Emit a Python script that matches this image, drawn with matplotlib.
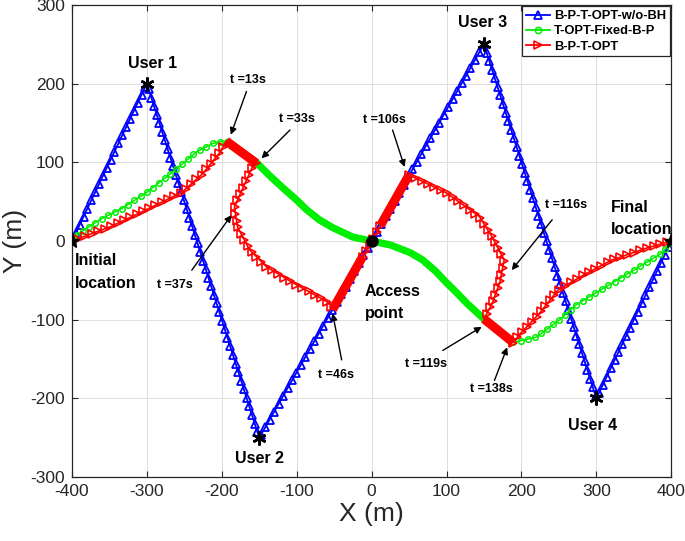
import numpy as np
import matplotlib
matplotlib.use("Agg")
import matplotlib.pyplot as plt
from matplotlib.lines import Line2D

plt.rcParams['font.family'] = ['Liberation Sans', 'DejaVu Sans']
plt.rcParams['axes.unicode_minus'] = False

# ---------------- data ----------------
users_x = [-300, -150, 150, 300]
users_y = [200, -250, 250, -200]
user_labels = ["User 1", "User 2", "User 3", "User 4"]
ends_x = [-400, 400]
ends_y = [0, 0]
ap_x, ap_y = [0], [0]

# B-P-T-OPT-w/o-BH (blue)
blue_x = [-400, -300, -150, 150, 300, 400]
blue_y = [0, 200, -250, 250, -200, 0]

# T-OPT-Fixed-B-P (green)
green_fly1_x = [-400, -393, -363, -332, -300, -265, -234, -212, -196]
green_fly1_y = [0, 8, 27, 42, 62, 88, 113, 124, 127]
green_slow_x = [-196, -153, -135, -119, -100, -87, -70, -52, -25, 0, 25, 52, 68, 85, 100, 115, 127, 150, 189]
green_slow_y = [127, 99, 82, 68, 52, 40, 27, 17, 5, 0, -5, -15, -24, -38, -53, -67, -79, -99, -128]
green_fly2_x = [189, 193, 220, 251, 273, 313, 355, 388, 400]
green_fly2_y = [-128, -128, -122, -100, -81, -58, -34, -15, 0]

# B-P-T-OPT (red)
red_fly1_x = [-400, -375, -349, -309, -283, -253, -225, -203, -194]
red_fly1_y = [0, 9, 18, 36, 48, 62, 86, 112, 127]
red_hover1_x = [-194, -154]
red_hover1_y = [127, 99]
red_loop1_x = [-154, -159, -173, -183, -179, -163, -140, -105, -56, -52]
red_loop1_y = [99, 94, 65, 43, 18, -11, -33, -53, -79, -87]
red_hover2a_x = [-52, -12]
red_hover2a_y = [-87, -20]
red_mid_x = [-12, 12]
red_mid_y = [-20, 20]
red_hover2b_x = [12, 50]
red_hover2b_y = [20, 84]
red_loop2_x = [50, 100, 144, 161, 177, 171, 161, 150]
red_loop2_y = [84, 61, 31, 5, -24, -53, -79, -99]
red_hover3_x = [150, 189]
red_hover3_y = [-99, -129]
red_fly2_x = [189, 197, 224, 249, 287, 321, 367, 400]
red_fly2_y = [-129, -119, -92, -62, -41, -24, -9, 0]

# time annotations
t_labels = ["t =13s", "t =33s", "t =37s", "t =46s", "t =106s", "t =116s", "t =119s", "t =138s"]
t_text_x = [-165, -100, -263, -47, 17, 260, 72, 160]
t_text_y = [205, 155, -56, -170, 154, 46, -156, -188]
t_tail_x = [-167, -109, -240, -40, 28, 241, 95, 164]
t_tail_y = [190, 141, -37, -151, 141, 27, -139, -177]
t_tip_x = [-188, -147, -187, -52, 44, 187, 147, 181]
t_tip_y = [135, 105, 33, -92, 94, -37, -109, -135]


def along(xs, ys, step):
    """marker positions spaced evenly (in screen-like units) along a polyline"""
    xs = np.asarray(xs, float); ys = np.asarray(ys, float)
    sx, sy = xs * 0.75, ys * 0.787
    seg = np.hypot(np.diff(sx), np.diff(sy))
    cum = np.concatenate([[0], np.cumsum(seg)])
    s = np.arange(0, cum[-1] + 1e-9, step)
    return np.interp(s, cum, xs), np.interp(s, cum, ys)


BLUE = '#0000ff'
GREEN = '#00ee00'
RED = '#ff0000'

fig = plt.figure(figsize=(6.85, 5.41), dpi=100)
ax = fig.add_axes([0.105, 0.118, 0.875, 0.873])

# blue
ax.plot(blue_x, blue_y, color=BLUE, lw=1.3, zorder=2)
bx, by = along(blue_x, blue_y, 9.0)
ax.plot(bx, by, ls='none', marker='^', ms=5.5, mfc='none', mec=BLUE, mew=1.3, zorder=2)

# green
ax.plot(green_fly1_x, green_fly1_y, color=GREEN, lw=1.1, zorder=3)
gx, gy = along(green_fly1_x, green_fly1_y, 7.5)
ax.plot(gx, gy, ls='none', marker='o', ms=4, mfc='none', mec=GREEN, mew=1.1, zorder=3)
ax.plot(green_slow_x, green_slow_y, color=GREEN, lw=5.2, solid_capstyle='butt', zorder=3)
ax.plot(green_fly2_x, green_fly2_y, color=GREEN, lw=1.1, zorder=3)
gx, gy = along(green_fly2_x, green_fly2_y, 7.5)
ax.plot(gx, gy, ls='none', marker='o', ms=4, mfc='none', mec=GREEN, mew=1.1, zorder=3)

# red
for xs, ys in [(red_fly1_x, red_fly1_y), (red_loop1_x, red_loop1_y),
               (red_mid_x, red_mid_y), (red_loop2_x, red_loop2_y),
               (red_fly2_x, red_fly2_y)]:
    ax.plot(xs, ys, color=RED, lw=1.2, zorder=4)
    rx, ry = along(xs, ys, 7.0)
    ax.plot(rx, ry, ls='none', marker='>', ms=5.5, mfc='none', mec=RED, mew=1.2, zorder=4)
for xs, ys in [(red_hover1_x, red_hover1_y), (red_hover2a_x, red_hover2a_y),
               (red_hover2b_x, red_hover2b_y), (red_hover3_x, red_hover3_y)]:
    ax.plot(xs, ys, color=RED, lw=6.5, solid_capstyle='butt', zorder=4)

# points
ax.plot(users_x, users_y, ls='none', marker=(6, 2, 0), ms=10, mec='k', mew=1.8, zorder=6)
ax.plot(ends_x, ends_y, ls='none', marker='*', ms=11, color='k', zorder=6)
ax.plot(ap_x, ap_y, ls='none', marker='o', ms=8, color='k', zorder=7)

# texts
user_off = [(8, 26), (1, -26), (-2, 27), (-5, -34)]
for ux, uy, lab, (dx, dy) in zip(users_x, users_y, user_labels, user_off):
    ax.text(ux + dx, uy + dy, lab, fontsize=11.5, fontweight='bold', ha='center', va='center', zorder=8)

ax.text(-396, -25, "Initial", fontsize=11.5, fontweight='bold', ha='left', va='center', zorder=8)
ax.text(-396, -54, "location", fontsize=11.5, fontweight='bold', ha='left', va='center', zorder=8)
ax.text(320, 43, "Final", fontsize=11.5, fontweight='bold', ha='left', va='center', zorder=8)
ax.text(320, 14, "location", fontsize=11.5, fontweight='bold', ha='left', va='center', zorder=8)
ax.text(-9, -64, "Access", fontsize=11.5, fontweight='bold', ha='left', va='center', zorder=8)
ax.text(-9, -92, "point", fontsize=11.5, fontweight='bold', ha='left', va='center', zorder=8)

for lab, tx, ty, ax0, ay0, ax1, ay1 in zip(t_labels, t_text_x, t_text_y, t_tail_x, t_tail_y, t_tip_x, t_tip_y):
    ax.text(tx, ty, lab, fontsize=9, fontweight='bold', ha='center', va='center', zorder=8)
    ax.annotate("", xy=(ax1, ay1), xytext=(ax0, ay0),
                arrowprops=dict(arrowstyle='-|>', color='k', lw=1.0, mutation_scale=10,
                                shrinkA=0, shrinkB=0), zorder=8)

# axes
ax.set_xlim(-400, 400)
ax.set_ylim(-300, 300)
ax.set_xticks(np.arange(-400, 401, 100))
ax.set_yticks(np.arange(-300, 301, 100))
ax.grid(True, color='#dedede', lw=0.7)
ax.set_axisbelow(True)
ax.tick_params(direction='in', length=4, width=0.8, top=True, right=True,
               labelsize=12.5, colors='#262626', pad=5)
for sp in ax.spines.values():
    sp.set_color('#262626')
    sp.set_linewidth(0.9)
ax.set_xlabel("X (m)", fontsize=19, color='#262626', labelpad=2)
ax.set_ylabel("Y (m)", fontsize=19, color='#262626', labelpad=2)

handles = [
    Line2D([], [], color=BLUE, lw=1.3, marker='^', ms=5.5, mfc='none', mec=BLUE, mew=1.3),
    Line2D([], [], color=GREEN, lw=1.3, marker='o', ms=4.5, mfc='none', mec=GREEN, mew=1.1),
    Line2D([], [], color=RED, lw=1.3, marker='>', ms=5.5, mfc='none', mec=RED, mew=1.2),
]
leg = ax.legend(handles, ["B-P-T-OPT-w/o-BH", "T-OPT-Fixed-B-P", "B-P-T-OPT"],
                loc='upper right', bbox_to_anchor=(1.0, 1.0), borderaxespad=0.1,
                fancybox=False, framealpha=1, edgecolor='#262626',
                prop={'weight': 'bold', 'size': 9.3}, handlelength=1.9,
                handletextpad=0.3, borderpad=0.3, labelspacing=0.25)
leg.get_frame().set_linewidth(0.9)
leg.set_zorder(10)

fig.savefig("out.png", dpi=100)
